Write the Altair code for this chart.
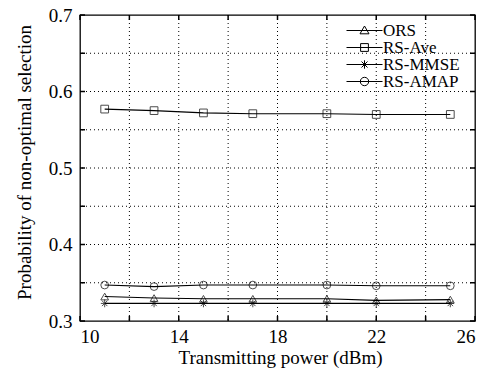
import altair as alt
import pandas as pd

power = [11, 13, 15, 17, 20, 22, 25]
series = ["ORS", "RS-Ave", "RS-MMSE", "RS-AMAP"]
ors = [0.332, 0.330, 0.329, 0.329, 0.329, 0.327, 0.328]
rs_ave = [0.577, 0.575, 0.572, 0.571, 0.571, 0.570, 0.570]
rs_mmse = [0.323, 0.323, 0.323, 0.323, 0.323, 0.323, 0.323]
rs_amap = [0.347, 0.345, 0.347, 0.347, 0.347, 0.346, 0.346]
x_ticks = [10, 12, 14, 16, 18, 20, 22, 24, 26]
y_ticks = [0.30, 0.35, 0.40, 0.45, 0.50, 0.55, 0.60, 0.65, 0.70]
x_grid = [12, 14, 16, 18, 20, 22, 24]
y_grid = [0.35, 0.40, 0.45, 0.50, 0.55, 0.60, 0.65]

rows = []
for name, vals in zip(series, [ors, rs_ave, rs_mmse, rs_amap]):
    for p, v in zip(power, vals):
        rows.append({"power": p, "prob": v, "series": name})
df = pd.DataFrame(rows)
xt = pd.DataFrame({"power": x_ticks})
yt = pd.DataFrame({"prob": y_ticks})
xg = pd.DataFrame({"power": x_grid})
yg = pd.DataFrame({"prob": y_grid})

W, H = 395, 306
FONT = "Liberation Serif"
FS = 19
LFS = 17
xs = alt.Scale(domain=[10, 26], nice=False, zero=False)
ys = alt.Scale(domain=[0.3, 0.7], nice=False, zero=False)

x_axis = alt.Axis(values=x_ticks, format="d",
                  labelExpr="datum.value % 4 == 2 ? datum.label : ''",
                  tickSize=0, ticks=False, domain=False, grid=False,
                  labelFont=FONT, labelFontSize=FS, labelColor="black", labelPadding=6,
                  title="Transmitting power (dBm)", titleFont=FONT, titleFontSize=FS,
                  titleFontWeight="normal", titleColor="black",
                  titleX=200, titleY=42, titleBaseline="alphabetic")
y_axis = alt.Axis(values=y_ticks, format=".1f",
                  labelExpr="abs(datum.value*10 - round(datum.value*10)) < 0.001 ? datum.label : ''",
                  tickSize=0, ticks=False, domain=False, grid=False,
                  labelFont=FONT, labelFontSize=FS, labelColor="black", labelPadding=8,
                  title="Probability of non-optimal selection", titleFont=FONT,
                  titleFontSize=FS, titleFontWeight="normal", titleColor="black",
                  titleX=-50, titleY=147, titleBaseline="alphabetic")

X = alt.X("power:Q", scale=xs, axis=x_axis)
Y = alt.Y("prob:Q", scale=ys, axis=y_axis)

asterisk = "M-1,0L1,0M0,-1L0,1M-0.7,-0.7L0.7,0.7M-0.7,0.7L0.7,-0.7"
point_shapes = ["triangle-up", "square", asterisk, "circle"]
legend_paths = [
    "M-3,0L3,0M0,-0.75L0.75,0.55L-0.75,0.55Z",
    "M-3,0L3,0M-0.65,-0.65L0.65,-0.65L0.65,0.65L-0.65,0.65Z",
    "M-3,0L3,0M-0.7,0L0.7,0M0,-0.7L0,0.7M-0.5,-0.5L0.5,0.5M-0.5,0.5L0.5,-0.5",
    "M-3,0L3,0M-0.7,0A0.7,0.7 0 1,0 0.7,0A0.7,0.7 0 1,0 -0.7,0",
]

xgrid = alt.Chart(xg).mark_rule(stroke="black", strokeWidth=1, strokeDash=[1, 3]).encode(x=X)
ygrid = alt.Chart(yg).mark_rule(stroke="black", strokeWidth=1, strokeDash=[1, 3]).encode(y=Y)

lines = alt.Chart(df).mark_line(stroke="black", strokeWidth=1.1).encode(
    x=X, y=Y, detail="series:N")
points = alt.Chart(df).mark_point(filled=False, stroke="black", size=60, strokeWidth=1).encode(
    x=X, y=Y,
    shape=alt.Shape("series:N", scale=alt.Scale(domain=series, range=point_shapes), legend=None))
legend_layer = alt.Chart(df).mark_point(filled=False, stroke="black", size=144, opacity=0,
                                        strokeWidth=1).encode(
    x=X, y=Y,
    shape=alt.Shape("series:N", scale=alt.Scale(domain=series, range=legend_paths),
                    legend=alt.Legend(title=None, orient="none", legendX=276, legendY=7,
                                      padding=0, symbolOpacity=1, symbolSize=144,
                                      symbolStrokeColor="black", symbolStrokeWidth=1,
                                      labelFont=FONT, labelFontSize=LFS, labelColor="black",
                                      labelOffset=10)))

TL = 5
tick_kw = dict(stroke="black", strokeWidth=1.5)
bt = alt.Chart(xt).mark_rule(**tick_kw).encode(x=X, y=alt.value(H), y2=alt.value(H - TL))
tt = alt.Chart(xt).mark_rule(**tick_kw).encode(x=X, y=alt.value(0), y2=alt.value(TL))
lt = alt.Chart(yt).mark_rule(**tick_kw).encode(y=Y, x=alt.value(0), x2=alt.value(TL))
rt = alt.Chart(yt).mark_rule(**tick_kw).encode(y=Y, x=alt.value(W), x2=alt.value(W - TL))

chart = alt.layer(xgrid, ygrid, bt, tt, lt, rt, lines, points, legend_layer).resolve_scale(
    shape="independent"
).properties(
    width=W, height=H,
    autosize=alt.AutoSizeParams(type="none"),
    padding={"left": 72, "top": 7, "right": 8, "bottom": 70},
    title=alt.TitleParams(text="(a)    Probability of non-optimal selection", orient="bottom",
                          anchor="middle", font=FONT, fontSize=20, fontWeight="normal",
                          color="black", offset=14, dx=10),
).configure_view(stroke="black", strokeWidth=1.3).configure_legend(rowPadding=-1)

chart.save("out.html", embed_options={"renderer": "svg", "actions": False})
